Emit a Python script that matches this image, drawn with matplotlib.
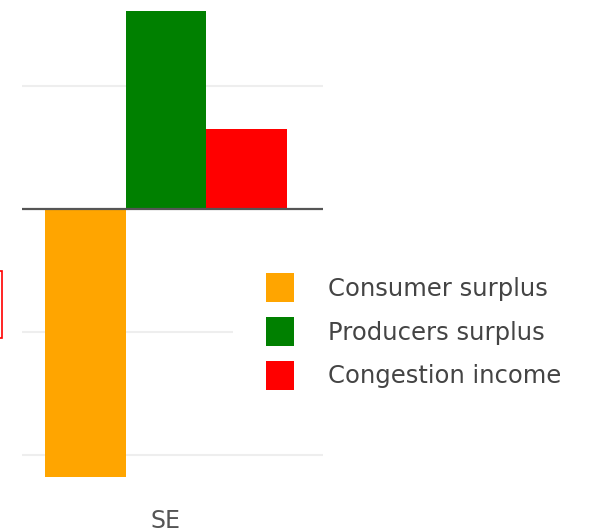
import matplotlib
matplotlib.use("Agg")
import matplotlib.pyplot as plt
from matplotlib.patches import Patch, Rectangle

# data
categories = ["SE"]
series_names = ["Consumer surplus", "Producers surplus", "Congestion income"]
series_values = [[-2.18], [1.61], [0.65]]
series_colors = ["#ffa500", "#008000", "#ff0000"]

W, H = 613, 532
fig = plt.figure(figsize=(W / 100, H / 100), dpi=100)
ax = fig.add_axes([22 / W, 1 - 477 / H, (323 - 22) / W, (477 - 11) / H])

bar_w = 0.8 / len(series_names)
x = list(range(len(categories)))
for i, (name, vals, col) in enumerate(zip(series_names, series_values, series_colors)):
    offs = (i - (len(series_names) - 1) / 2) * bar_w
    ax.bar([xi + offs for xi in x], vals, width=bar_w, color=col, label=name, zorder=2)

all_vals = [v for s in series_values for v in s]
ax.set_ylim(min(all_vals), max(all_vals))
ax.set_xlim(-0.476, 0.519)

ax.set_yticks([-2, -1, 1])
ax.yaxis.grid(True, color="#eeeeee", linewidth=1.5, zorder=0)
ax.tick_params(axis="y", length=0, labelleft=False)
ax.axhline(0, color="#555555", linewidth=1.6, zorder=3)

ax.set_xticks(x)
ax.set_xticklabels(categories, fontsize=17, color="#555555")
ax.tick_params(axis="x", length=0, pad=23)
for s in ax.spines.values():
    s.set_visible(False)

handles = [Patch(facecolor=c, edgecolor="none") for c in series_colors]
leg = ax.legend(handles, series_names, loc="center left",
                bbox_to_anchor=(233 / W, 1 - 331.5 / H), bbox_transform=fig.transFigure,
                borderaxespad=0, fontsize=17.5, frameon=True, fancybox=False,
                handlelength=1.15, handleheight=1.45, handletextpad=1.4,
                labelspacing=0.62, borderpad=1.36)
leg.get_frame().set_facecolor("white")
leg.get_frame().set_edgecolor("none")
leg.get_frame().set_alpha(1)
leg.set_zorder(5)
for t in leg.get_texts():
    t.set_color("#444444")

# clipped red box at the left edge
fig.patches.append(Rectangle((-40 / W, 1 - 338 / H), 42 / W, 67 / H,
                             transform=fig.transFigure, fill=False,
                             edgecolor="red", linewidth=1.2))

fig.savefig("out.png", dpi=100)
